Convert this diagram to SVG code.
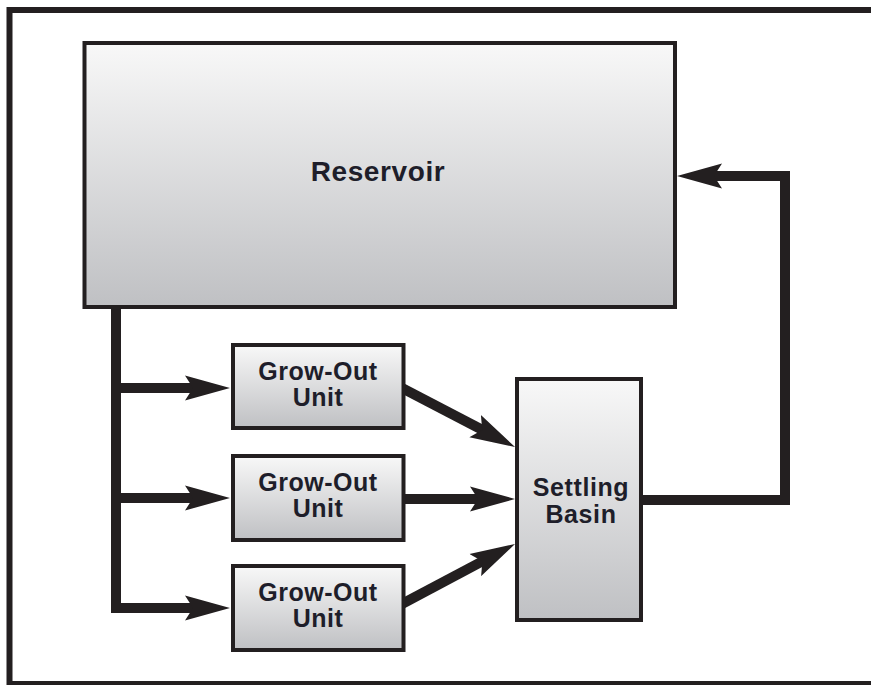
<svg xmlns="http://www.w3.org/2000/svg" width="871" height="685" viewBox="0 0 871 685">
  <defs>
    <linearGradient id="boxGrad" x1="0" y1="0" x2="0" y2="1">
      <stop offset="0" stop-color="#f8f8f8"/>
      <stop offset="1" stop-color="#bfc0c3"/>
    </linearGradient>
    <marker id="arrow" markerUnits="userSpaceOnUse" viewBox="0 -13 46 26" refX="10" refY="0" markerWidth="46" markerHeight="26" orient="auto">
      <path d="M0,-12.5 L45,0 L0,12.5 L8,0 Z" fill="#231f20"/>
    </marker>
    <style>
      .box { fill: url(#boxGrad); stroke: #231f20; stroke-width: 4; }
      .label { font-family: "Liberation Sans", Arial, sans-serif; font-weight: bold; fill: #1e1e2a; text-anchor: middle; }
      .conn { fill: none; stroke: #231f20; stroke-width: 10; stroke-linejoin: miter; }
    </style>
  </defs>
  <rect width="871" height="685" fill="#ffffff"/>
  <rect x="9.5" y="10" width="880" height="674" fill="none" stroke="#231f20" stroke-width="6"/>

  <g id="connectors">
    <path class="conn" d="M116,305 V608 H195" marker-end="url(#arrow)"/>
    <path class="conn" d="M116,388 H195" marker-end="url(#arrow)"/>
    <path class="conn" d="M116,498 H195" marker-end="url(#arrow)"/>
    <path class="conn" d="M400,387 L484,430.8" marker-end="url(#arrow)"/>
    <path class="conn" d="M400,499 H480" marker-end="url(#arrow)"/>
    <path class="conn" d="M400,605 L484.1,560.4" marker-end="url(#arrow)"/>
    <path class="conn" d="M641,500 H785 V176 H712" marker-end="url(#arrow)"/>
  </g>

  <g id="reservoir">
    <rect class="box" x="84.5" y="43" width="590.5" height="264"/>
    <text class="label" x="378" y="181" font-size="28" letter-spacing="0.6">Reservoir</text>
  </g>

  <g id="growout1">
    <rect class="box" x="233" y="345" width="170.5" height="83"/>
    <text class="label" x="318" y="380" font-size="25" letter-spacing="0.5">Grow-Out</text>
    <text class="label" x="318" y="406" font-size="25" letter-spacing="0.5">Unit</text>
  </g>

  <g id="growout2">
    <rect class="box" x="233" y="456" width="170.5" height="84"/>
    <text class="label" x="318" y="491" font-size="25" letter-spacing="0.5">Grow-Out</text>
    <text class="label" x="318" y="517" font-size="25" letter-spacing="0.5">Unit</text>
  </g>

  <g id="growout3">
    <rect class="box" x="233" y="566" width="170.5" height="84"/>
    <text class="label" x="318" y="601" font-size="25" letter-spacing="0.5">Grow-Out</text>
    <text class="label" x="318" y="627" font-size="25" letter-spacing="0.5">Unit</text>
  </g>

  <g id="settling">
    <rect class="box" x="517" y="379" width="124" height="241"/>
    <text class="label" x="581" y="496" font-size="25" letter-spacing="0.6">Settling</text>
    <text class="label" x="581" y="523" font-size="25" letter-spacing="0.6">Basin</text>
  </g>
</svg>
